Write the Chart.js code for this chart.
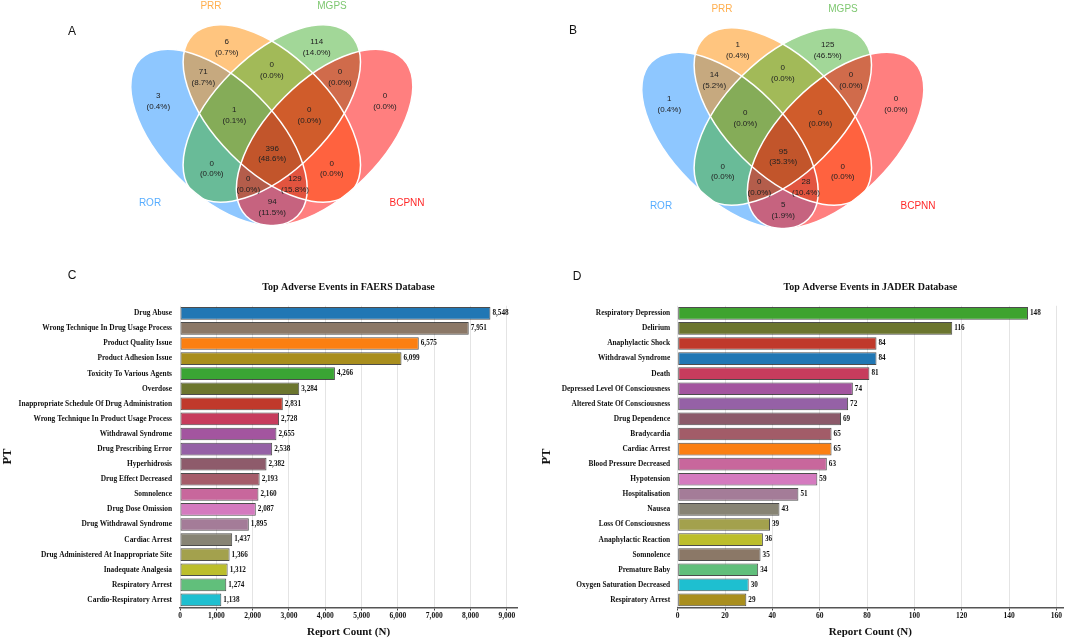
<!DOCTYPE html>
<html>
<head>
<meta charset="utf-8">
<script src="https://cdn.jsdelivr.net/npm/chart.js@4.4.1/dist/chart.umd.min.js"></script>
<style>
  body { margin: 0; background: #fff; }
  #wrap { position: relative; width: 1065px; height: 641px; overflow: hidden; }
  canvas { position: absolute; }
  .tag { position: absolute; font: 12px 'Liberation Sans', Arial, sans-serif; color: #111; transform: translate(-50%, -50%); }
</style>
</head>
<body>
<div id="wrap">
  <canvas id="vennA" width="532" height="250" style="left:0;top:0"></canvas>
  <canvas id="vennB" width="554" height="250" style="left:511px;top:3px"></canvas>
  <canvas id="barC" width="532" height="381" style="left:0;top:260px"></canvas>
  <canvas id="barD" width="533" height="381" style="left:532px;top:260px"></canvas>
  <div class="tag" style="left:72px;top:31px">A</div>
  <div class="tag" style="left:573px;top:30px">B</div>
  <div class="tag" style="left:72px;top:275px">C</div>
  <div class="tag" style="left:577px;top:276px">D</div>
</div>
<script>
// ---- data ----
const vennSets = ['ROR', 'PRR', 'MGPS', 'BCPNN'];
// region keys: 1 = in set (ROR, PRR, MGPS, BCPNN)
const vennRegions = ['1000', '0100', '0010', '0001', '1100', '0110', '0011', '1110', '0111', '1111', '1010', '0101', '1011', '1101', '1001'];
const faersVenn = [3, 6, 114, 0, 71, 0, 0, 1, 0, 396, 0, 0, 0, 129, 94];
const jaderVenn = [1, 1, 125, 0, 14, 0, 0, 0, 0, 95, 0, 0, 0, 28, 5];

const faersLabels = ['Drug Abuse', 'Wrong Technique In Drug Usage Process', 'Product Quality Issue', 'Product Adhesion Issue',
  'Toxicity To Various Agents', 'Overdose', 'Inappropriate Schedule Of Drug Administration', 'Wrong Technique In Product Usage Process',
  'Withdrawal Syndrome', 'Drug Prescribing Error', 'Hyperhidrosis', 'Drug Effect Decreased', 'Somnolence', 'Drug Dose Omission',
  'Drug Withdrawal Syndrome', 'Cardiac Arrest', 'Drug Administered At Inappropriate Site', 'Inadequate Analgesia',
  'Respiratory Arrest', 'Cardio-Respiratory Arrest'];
const faersCounts = [8548, 7951, 6575, 6099, 4266, 3284, 2831, 2728, 2655, 2538, 2382, 2193, 2160, 2087, 1895, 1437, 1366, 1312, 1274, 1138];
const faersTicks = [0, 1000, 2000, 3000, 4000, 5000, 6000, 7000, 8000, 9000];

const jaderLabels = ['Respiratory Depression', 'Delirium', 'Anaphylactic Shock', 'Withdrawal Syndrome', 'Death',
  'Depressed Level Of Consciousness', 'Altered State Of Consciousness', 'Drug Dependence', 'Bradycardia', 'Cardiac Arrest',
  'Blood Pressure Decreased', 'Hypotension', 'Hospitalisation', 'Nausea', 'Loss Of Consciousness', 'Anaphylactic Reaction',
  'Somnolence', 'Premature Baby', 'Oxygen Saturation Decreased', 'Respiratory Arrest'];
const jaderCounts = [148, 116, 84, 84, 81, 74, 72, 69, 65, 65, 63, 59, 51, 43, 39, 36, 35, 34, 30, 29];
const jaderTicks = [0, 20, 40, 60, 80, 100, 120, 140, 160];

// ---- styles / layout ----
const faersColors = ['#2177b4', '#8b7867', '#fb7f12', '#a98e1d', '#3aa534', '#6c762e', '#c0392b', '#c73c5d', '#a3559f', '#9561a6',
  '#8e5b6b', '#a55c6a', '#c8679c', '#d47abf', '#a47c98', '#878474', '#a3a14d', '#bcbe2c', '#61bf7b', '#1ebfd0'];
const jaderColors = ['#3ea32f', '#6b752e', '#c0392b', '#2177b4', '#c73c5d', '#a3559f', '#9561a6', '#8c5a6a', '#a25c68', '#fb7f12',
  '#c8679c', '#d47abf', '#a47c98', '#878474', '#a3a14d', '#bcbe2c', '#8b7867', '#61bf7b', '#1ebfd0', '#a98e1d'];

const vennFill = ['rgba(30,144,255,0.5)', 'rgba(255,140,0,0.5)', 'rgba(70,175,50,0.5)', 'rgba(255,0,0,0.5)'];
const vennText = ['rgba(30,144,255,0.75)', 'rgba(255,140,0,0.7)', 'rgba(70,175,50,0.7)', 'rgba(255,0,0,0.85)'];
// ellipse geometry in diagram units
const vennShapes = [
  { x: 219, y: 137.5, a: 111, b: 57, rot: 45 },
  { x: 271.8, y: 113.5, a: 111.5, b: 57.5, rot: 45 },
  { x: 271.8, y: 113.5, a: 111.5, b: 57.5, rot: -45 },
  { x: 324.6, y: 137.5, a: 111, b: 57, rot: -45 }
];
const vennRegionPos = [[158.3, 101], [226.7, 47], [316.7, 47], [385, 101], [203.3, 77.2], [271.8, 70.3], [340, 77.2],
  [234.3, 115.3], [309.3, 115.3], [272.2, 153.8], [211.7, 168.8], [331.7, 168.8], [248.3, 184.2], [295, 184.2], [272.2, 207]];
const vennSetPos = [[150, 203], [211, 6], [332, 6], [407, 203]];

const sans = "'Liberation Sans', Arial, sans-serif";
const serif = "'Liberation Serif', 'Times New Roman', serif";

const vennPlugin = {
  id: 'venn',
  beforeDatasetsDraw(chart) {
    const { ctx, scales: { x, y } } = chart;
    const kx = x.getPixelForValue(1) - x.getPixelForValue(0);
    const ky = Math.abs(y.getPixelForValue(1) - y.getPixelForValue(0));
    const path = e => {
      ctx.beginPath();
      ctx.ellipse(x.getPixelForValue(e.x), y.getPixelForValue(e.y), e.a * kx, e.b * ky, e.rot * Math.PI / 180, 0, Math.PI * 2);
    };
    ctx.save();
    vennShapes.forEach((e, i) => {
      path(e);
      ctx.fillStyle = vennFill[i];
      ctx.fill();
    });
    ctx.strokeStyle = '#fff';
    ctx.lineWidth = 1.5;
    vennShapes.forEach(e => { path(e); ctx.stroke(); });
    ctx.restore();
  },
  afterDatasetsDraw(chart) {
    const { ctx, scales: { x, y } } = chart;
    const ds = chart.data.datasets[0];
    const total = ds.data.reduce((s, d) => s + d.n, 0);
    ctx.save();
    ctx.textAlign = 'center';
    ctx.textBaseline = 'middle';
    ctx.fillStyle = '#222';
    ctx.font = '8px ' + sans;
    chart.getDatasetMeta(0).data.forEach((pt, i) => {
      const n = ds.data[i].n;
      ctx.fillText(String(n), pt.x, pt.y - 5.3);
      ctx.fillText('(' + (n / total * 100).toFixed(1) + '%)', pt.x, pt.y + 5.3);
    });
    ctx.font = '10px ' + sans;
    vennSets.forEach((name, i) => {
      ctx.fillStyle = vennText[i];
      ctx.fillText(name, x.getPixelForValue(vennSetPos[i][0]), y.getPixelForValue(vennSetPos[i][1]));
    });
    ctx.restore();
  }
};

function vennChart(id, counts) {
  const canvas = document.getElementById(id);
  new Chart(canvas, {
    type: 'scatter',
    data: {
      datasets: [{
        data: vennRegions.map((r, i) => ({ x: vennRegionPos[i][0], y: vennRegionPos[i][1], n: counts[i] })),
        pointRadius: 0
      }]
    },
    options: {
      responsive: false,
      animation: false,
      layout: { padding: 0 },
      plugins: { legend: { display: false }, tooltip: { enabled: false } },
      scales: {
        x: { type: 'linear', min: 0, max: canvas.width, display: false },
        y: { type: 'linear', min: 0, max: canvas.height, reverse: true, display: false }
      }
    },
    plugins: [vennPlugin]
  });
}

const valueLabels = {
  id: 'valueLabels',
  afterDatasetsDraw(chart) {
    const { ctx } = chart;
    const ds = chart.data.datasets[0];
    ctx.save();
    ctx.font = 'bold 7.2px ' + serif;
    ctx.fillStyle = '#111';
    ctx.textBaseline = 'middle';
    chart.getDatasetMeta(0).data.forEach((bar, i) => {
      ctx.fillText(ds.data[i].toLocaleString('en-US'), bar.x + 2, bar.y);
    });
    ctx.restore();
  }
};

function barChart(id, labels, values, colors, tickValues, opts) {
  new Chart(document.getElementById(id), {
    type: 'bar',
    data: {
      labels: labels,
      datasets: [{
        data: values,
        backgroundColor: colors,
        borderColor: 'rgba(45,45,45,0.85)',
        borderWidth: 1,
        borderSkipped: false,
        categoryPercentage: 1,
        barPercentage: 0.84
      }]
    },
    options: {
      indexAxis: 'y',
      responsive: false,
      animation: false,
      layout: { padding: { left: 0, right: opts.padRight, top: 0, bottom: 0 } },
      plugins: {
        legend: { display: false },
        tooltip: { enabled: false },
        title: {
          display: true,
          text: opts.title,
          fullSize: false,
          color: '#111',
          font: { family: serif, size: 10, weight: 'bold', lineHeight: 1.2 },
          padding: { top: 21, bottom: 12.75 }
        }
      },
      scales: {
        x: {
          min: 0,
          max: opts.max,
          afterBuildTicks: s => { s.ticks = tickValues.map(v => ({ value: v })); },
          ticks: {
            color: '#111',
            padding: 1,
            font: { family: serif, size: 7.5, weight: 'bold' },
            callback: v => v.toLocaleString('en-US')
          },
          grid: { color: '#e4e4e4', tickColor: '#444', tickLength: 3 },
          border: { color: '#555', width: 1.5 },
          title: {
            display: true,
            text: 'Report Count (N)',
            color: '#111',
            font: { family: serif, size: 11, weight: 'bold', lineHeight: 1.2 },
            padding: { top: 0, bottom: 1.9 }
          },
          afterFit: s => { s.height = 33.5; }
        },
        y: {
          ticks: {
            autoSkip: false,
            color: '#111',
            padding: opts.tickPad,
            font: { family: serif, size: 7.4, weight: 'bold' }
          },
          grid: { display: false, drawTicks: false },
          border: { display: false },
          title: {
            display: true,
            text: 'PT',
            color: '#111',
            font: { family: serif, size: 12.5, weight: 'bold', lineHeight: 1.2 },
            padding: { top: opts.titlePad, bottom: 0 }
          },
          afterFit: s => { s.width = opts.yWidth; }
        }
      }
    },
    plugins: [valueLabels]
  });
}

vennChart('vennA', faersVenn);
vennChart('vennB', jaderVenn);

barChart('barC', faersLabels, faersCounts, faersColors, faersTicks,
  { title: 'Top Adverse Events in FAERS Database', max: 9280, padRight: 15, yWidth: 180, tickPad: 8, titlePad: 0 });
barChart('barD', jaderLabels, jaderCounts, jaderColors, jaderTicks,
  { title: 'Top Adverse Events in JADER Database', max: 162.8, padRight: 2, yWidth: 145.7, tickPad: 7.5, titlePad: 7.5 });
</script>
</body>
</html>
